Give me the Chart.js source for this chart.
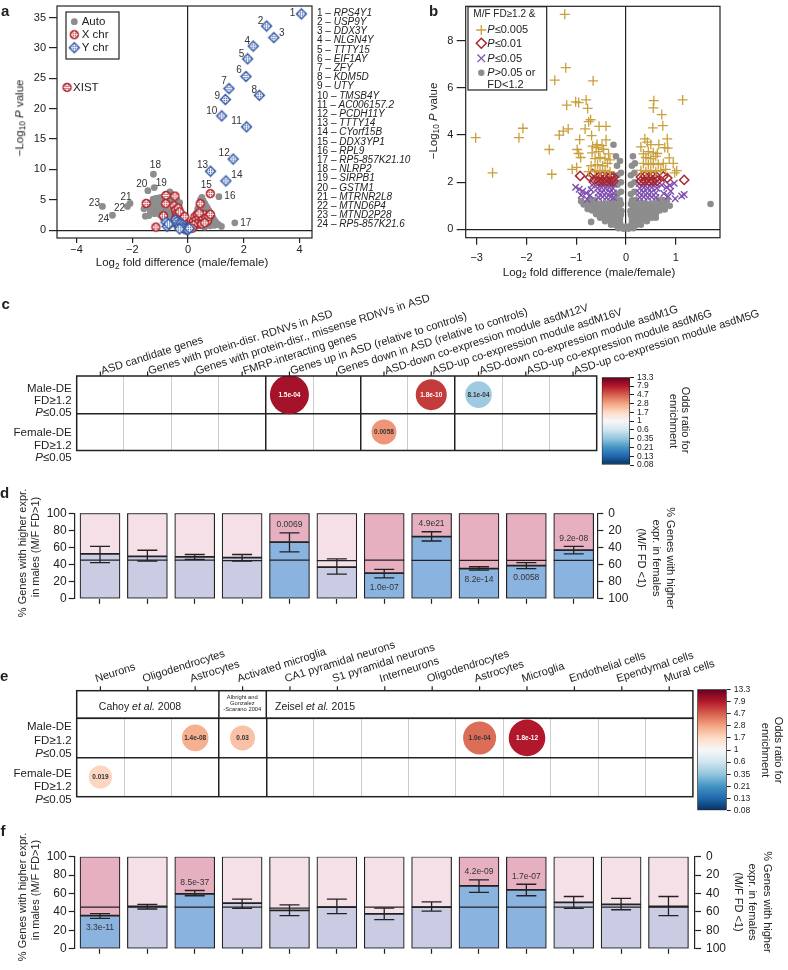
<!DOCTYPE html>
<html><head><meta charset="utf-8"><title>Sex-differential expression</title>
<script src="https://cdn.jsdelivr.net/npm/chart.js@4.4.1/dist/chart.umd.min.js"></script>
<style>
html,body{margin:0;padding:0;background:#fff}
body{width:788px;height:970px;position:relative;overflow:hidden;font-family:"Liberation Sans",Arial,Helvetica,sans-serif;color:#222}
canvas{position:absolute}
.t{position:absolute;white-space:nowrap;line-height:1}
.sub{font-size:72%;position:relative;top:0.3em}
.genes{position:absolute;left:317px;top:7.7px;font-size:10px;line-height:9.2px;white-space:nowrap}
</style></head><body>
<script>
// ===================== DATA =====================
// ---- Panel a: volcano plot (Log2 fold difference vs -Log10 P) ----
const aXTicks = [-4, -2, 0, 2, 4];
const aYTicks = [0, 5, 10, 15, 20, 25, 30, 35];
const aGeneNames = ['RPS4Y1','USP9Y','DDX3Y','NLGN4Y','TTTY15','EIF1AY','ZFY','KDM5D','UTY','TMSB4Y','AC006157.2','PCDH11Y','TTTY14','CYorf15B','DDX3YP1','RPL9','RP5-857K21.10','NLRP2','SIRPB1','GSTM1','MTRNR2L8','MTND6P4','MTND2P28','RP5-857K21.6'];
const aGeneChr = ['Y','Y','Y','Y','Y','Y','Y','Y','Y','Y','Y','Y','Y','Y','X','A','A','A','A','A','A','A','A','A'];
const aGeneFD = [4.07, 2.82, 3.08, 2.34, 2.14, 2.08, 1.47, 2.56, 1.34, 1.21, 2.10, 1.62, 0.81, 1.36, 0.80, 1.11, 1.68, -1.24, -1.21, -1.44, -2.08, -2.17, -3.07, -2.71];
const aGeneP  = [35.6, 33.6, 31.7, 30.3, 28.2, 25.3, 23.3, 22.2, 21.5, 18.8, 17.0, 11.7, 9.7, 8.1, 6.0, 5.5, 1.2, 9.2, 7.0, 6.5, 4.4, 3.9, 3.9, 2.45];
const aXIST = [-4.34, 23.5];
const aAutoCloud = [[-1.58,3.5],[-1.53,2.3],[-1.4,2.4],[-1.36,3.6],[-1.35,3.0],[-1.3,4.5],[-1.25,5.1],[-1.2,3.5],[-1.2,2.7],[-1.15,5.2],[-1.1,4.2],[-1.1,3.0],[-1.05,5.3],[-1.05,3.8],[-1.0,4.6],[-1.0,2.5],[-0.95,5.4],[-0.95,4.9],[-0.9,4.0],[-0.9,3.2],[-0.9,2.0],[-0.85,5.5],[-0.8,4.8],[-0.8,3.6],[-0.8,1.6],[-0.75,5.2],[-0.7,5.8],[-0.7,4.4],[-0.7,3.0],[-0.7,2.1],[-0.65,6.3],[-0.65,1.2],[-0.6,5.9],[-0.6,4.8],[-0.6,2.6],[-0.6,1.8],[-0.55,3.4],[-0.5,5.4],[-0.5,4.2],[-0.5,1.0],[-0.45,3.6],[-0.45,2.8],[-0.4,5.0],[-0.4,2.0],[-0.35,3.2],[-0.35,1.4],[-0.3,4.5],[-0.3,2.4],[-0.3,0.8],[-0.25,0.5],[-0.2,1.2],[-0.15,0.4],
  [0.1,0.2],[0.15,0.5],[0.2,1.0],[0.25,1.8],[0.3,2.8],[0.3,0.6],[0.35,3.5],[0.35,1.2],[0.4,4.2],[0.4,2.2],[0.45,5.0],[0.45,3.0],[0.45,0.7],[0.5,5.4],[0.5,3.8],[0.5,1.4],[0.55,4.8],[0.55,2.6],[0.6,4.4],[0.6,3.2],[0.6,1.6],[0.6,0.5],[0.65,4.0],[0.7,3.6],[0.7,2.4],[0.7,1.0],[0.75,3.2],[0.8,2.8],[0.8,1.8],[0.8,0.7],[0.85,2.4],[0.9,2.0],[0.9,1.2],[0.95,1.6],[0.95,0.8],[1.0,1.3],[1.05,1.0],[1.1,0.9],[1.2,0.6]];
const aXCloud = [[-1.5,4.4],[-0.79,5.7],[-0.47,5.6],[-0.8,4.35],[-0.88,2.35],[-1.15,0.5],[0.44,4.35],
  [-0.5,4.0],[-0.45,3.3],[-0.4,2.8],[-0.35,3.6],[-0.42,2.2],[-0.3,2.0],[-0.35,1.5],[-0.25,2.6],[-0.2,1.8],[-0.15,1.2],[-0.25,1.0],[-0.1,0.6],[-0.3,3.0],[-0.38,1.0],[-0.2,0.4],[-0.45,1.8],[-0.12,2.2],
  [0.1,0.5],[0.15,1.0],[0.2,1.5],[0.25,2.2],[0.3,1.8],[0.35,2.5],[0.4,2.0],[0.45,1.4],[0.5,2.4],[0.55,1.9],[0.6,2.5],[0.65,2.0],[0.7,1.5],[0.75,2.2],[0.3,1.0],[0.2,0.8],[0.5,1.0],[0.4,2.8],[0.15,0.3],[0.6,1.2],[0.8,2.6]];
const aYCloud = [[-0.79,1.3],[-0.75,0.6],[-0.7,1.0],[-0.45,1.7],[-0.4,1.4],[-0.35,1.0],[-0.3,0.7],[-0.25,1.1],[-0.2,0.9],[-0.2,0.5],[-0.15,0.3],[-0.1,0.2],[-0.05,0.1],[0,0.05],[-0.3,0.2],[0.05,0.3]];

// ---- Panel b: volcano plot by significance class ----
const bXTicks = [-3, -2, -1, 0, 1];
const bYTicks = [0, 2, 4, 6, 8];
const bGold = [[-1.23,9.12],[-1.21,6.86],[-1.43,6.33],[-0.66,6.30],[-0.80,5.49],[-1.01,5.41],[-0.95,5.38],[-1.19,5.27],[-0.77,5.13],[-0.71,4.65],[-0.75,4.57],[-0.54,4.37],[-0.40,4.37],[-1.16,4.26],[-1.26,4.17],[-1.34,4.0],[-0.82,4.26],[-2.07,4.29],[-2.15,3.89],[-3.02,3.89],[-2.68,2.40],[-1.54,3.39],[-1.49,2.34],[-0.93,3.81],[-0.98,3.39],[-0.95,3.22],[-0.91,3.05],[-0.99,2.63],[-1.08,2.55],[-0.69,3.98],[-0.67,3.53],[-0.60,3.47],[-0.40,3.8],
  [-0.62,2.5],[-0.52,2.45],[-0.42,2.5],[-0.32,2.45],[-0.57,2.75],[-0.47,2.7],[-0.37,2.8],[-0.62,3.0],[-0.52,3.05],[-0.42,3.0],[-0.32,2.95],[-0.55,3.3],[-0.45,3.4],[-0.35,3.2],[-0.58,3.6],[-0.48,3.55],[-0.7,2.7],[-0.75,2.45],[-0.68,3.25],
  [0.56,5.46],[0.55,5.15],[0.72,4.87],[0.54,4.31],[0.74,4.40],[1.14,5.49],[0.38,3.84],[0.43,3.70],[0.83,3.84],[0.78,3.47],[0.84,3.45],[0.63,3.22],[0.87,3.03],[0.95,2.80],[1.02,2.49],[0.98,2.4],[0.66,3.6],
  [0.3,2.5],[0.4,2.45],[0.5,2.5],[0.6,2.45],[0.7,2.5],[0.8,2.55],[0.35,2.8],[0.45,2.75],[0.55,2.8],[0.65,2.75],[0.75,2.8],[0.4,3.05],[0.5,3.0],[0.6,3.1],[0.45,3.3],[0.55,3.25],[0.35,3.2],[0.3,3.5],[0.5,3.6]];
const bRed = [[-0.92,2.27],[-0.72,2.21],[-0.67,2.35],[-0.63,2.1],[0.83,2.18],[1.17,2.1],[0.75,2.25],
  [-0.55,2.05],[-0.47,2.08],[-0.39,2.05],[-0.31,2.08],[-0.25,2.05],[-0.55,2.22],[-0.47,2.25],[-0.39,2.22],[-0.31,2.25],[-0.25,2.22],
  [0.3,2.05],[0.38,2.08],[0.46,2.05],[0.54,2.08],[0.62,2.05],[0.3,2.22],[0.38,2.25],[0.46,2.22],[0.54,2.25],[0.62,2.22]];
const bPurple = [[-1.01,1.79],[-0.94,1.70],[-0.87,1.62],[-0.80,1.55],[-0.78,1.28],[-0.72,1.45],[-0.68,1.88],[-0.70,1.68],[-0.9,1.45],
  [0.82,1.79],[0.97,1.96],[0.90,1.62],[0.99,1.30],[1.17,1.48],[1.12,1.42],[0.76,1.52],[0.72,1.88],[0.88,1.86],[0.85,1.4],
  [-0.55,1.35],[-0.47,1.38],[-0.39,1.35],[-0.31,1.38],[-0.25,1.35],[-0.56,1.55],[-0.48,1.58],[-0.4,1.55],[-0.32,1.58],[-0.25,1.55],[-0.57,1.75],[-0.49,1.78],[-0.41,1.75],[-0.33,1.78],[-0.26,1.75],[-0.55,1.95],[-0.47,1.92],[-0.39,1.95],[-0.31,1.92],[-0.25,1.95],
  [0.28,1.35],[0.36,1.38],[0.44,1.35],[0.52,1.38],[0.6,1.35],[0.27,1.55],[0.35,1.58],[0.43,1.55],[0.51,1.58],[0.6,1.55],[0.28,1.75],[0.36,1.78],[0.44,1.75],[0.52,1.78],[0.62,1.75],[0.27,1.95],[0.35,1.92],[0.43,1.95],[0.51,1.92],[0.6,1.95]];
const bGray = [[-0.15,0.05],[-0.05,0.03],[0.05,0.03],[0.15,0.05],
  [-0.3,0.2],[-0.2,0.18],[-0.1,0.15],[0,0.12],[0.1,0.15],[0.2,0.18],[0.3,0.2],
  [-0.42,0.35],[-0.32,0.38],[-0.22,0.33],[-0.12,0.3],[0.12,0.3],[0.22,0.33],[0.32,0.38],[0.42,0.35],
  [-0.52,0.5],[-0.42,0.52],[-0.32,0.5],[-0.22,0.48],[-0.12,0.45],[0.12,0.45],[0.22,0.48],[0.32,0.5],[0.42,0.52],[0.52,0.5],
  [-0.6,0.65],[-0.5,0.67],[-0.4,0.65],[-0.3,0.63],[-0.2,0.65],[-0.1,0.62],[0.1,0.62],[0.2,0.65],[0.3,0.63],[0.4,0.65],[0.5,0.67],[0.6,0.65],
  [-0.68,0.8],[-0.58,0.82],[-0.48,0.8],[-0.38,0.78],[-0.28,0.8],[-0.18,0.82],[-0.09,0.78],[0.09,0.78],[0.18,0.82],[0.28,0.8],[0.38,0.78],[0.48,0.8],[0.58,0.82],[0.68,0.8],
  [-0.74,0.95],[-0.64,0.97],[-0.54,0.95],[-0.44,0.93],[-0.34,0.95],[-0.24,0.97],[-0.14,0.94],[0.14,0.94],[0.24,0.97],[0.34,0.95],[0.44,0.93],[0.54,0.95],[0.64,0.97],[0.74,0.95],
  [-0.8,1.1],[-0.7,1.12],[-0.6,1.1],[-0.5,1.08],[-0.4,1.1],[-0.3,1.12],[-0.2,1.1],[-0.1,1.08],[0.1,1.08],[0.2,1.1],[0.3,1.12],[0.4,1.1],[0.5,1.08],[0.6,1.1],[0.7,1.12],[0.8,1.1],
  [-0.72,1.25],[-0.62,1.24],[-0.2,1.25],[-0.12,1.24],[0.12,1.24],[0.2,1.25],[0.66,1.24],[0.74,1.25],[0.82,1.23],
  [-0.17,1.5],[-0.1,1.6],[0.1,1.5],[0.17,1.6],[-0.17,1.9],[-0.1,2.0],[0.1,1.9],[0.17,2.0],[-0.17,2.3],[-0.1,2.4],[0.1,2.3],[0.17,2.4],[-0.18,2.7],[-0.12,2.9],[0.12,2.7],[0.18,2.8],[-0.2,3.1],[0.14,3.1],[-0.25,3.59],
  [-0.70,0.32],[-0.85,1.06],[-0.77,0.87],[0.6,0.5],[0.78,0.85],[1.7,1.08],[0.88,1.0],[-0.9,1.2]];

// ---- Panel c: enrichment in ASD gene sets ----
const cCategories = ['ASD candidate genes','Genes with protein-disr. RDNVs in ASD','Genes with protein-disr., missense RDNVs in ASD','FMRP-interacting genes','Genes up in ASD (relative to controls)','Genes down in ASD (relative to controls)','ASD-down co-expression module asdM12V','ASD-up co-expression module asdM16V','ASD-down co-expression module asdM1G','ASD-up co-expression module asdM6G','ASD-up co-expression module asdM5G'];
const cGroupBreaks = [4.5, 6.5, 8.5];
const cBubbleCol  = [5, 8, 9, 7];
const cBubbleRow  = [1, 1, 1, 0];        // 1 = Male-DE, 0 = Female-DE
const cBubbleOR   = [8.8, 6.2, 0.41, 3.2];
const cBubbleSize = [19.5, 15.5, 13.3, 12.5];
const cBubbleP    = ['1.5e-04', '1.8e-10', '8.1e-04', '0.0058'];

// ---- Panel d: % genes higher in males, ASD gene sets ----
const dMale  = [52.5, 49.6, 48.9, 48.2, 66.2, 37.0, 29.9, 72.7, 35.3, 38.8, 56.8];
const dBase  = [45.3, 45.3, 45.3, 44.6, 45.3, 44.6, 45.3, 45.0, 45.0, 45.0, 45.0];
const dErrLo = [42.4, 44.2, 46.0, 44.2, 55.0, 28.8, 24.5, 67.6, 33.5, 35.3, 52.5];
const dErrHi = [61.2, 56.8, 51.8, 51.8, 77.0, 46.8, 34.5, 78.4, 37.5, 42.4, 61.2];
const dPval  = ['', '', '', '', '0.0069', '', '1.0e-07', '4.9e21', '8.2e-14', '0.0058', '9.2e-08'];

// ---- Panel e: enrichment in cell-type marker sets ----
const eCategories = ['Neurons','Oligodendrocytes','Astrocytes','Activated microglia','CA1 pyramidal neurons','S1 pyramidal neurons','Interneurons','Oligodendrocytes','Astrocytes','Microglia','Endothelial cells','Ependymal cells','Mural cells'];
const eGroupBreaks = [3.5, 4.5];
const eBubbleCol  = [3, 4, 9, 10, 1];
const eBubbleRow  = [1, 1, 1, 1, 0];
const eBubbleOR   = [2.6, 2.2, 4.3, 8.0, 1.8];
const eBubbleSize = [13.3, 12.5, 16.5, 18.3, 11.7];
const eBubbleP    = ['1.4e-08', '0.03', '1.0e-04', '1.8e-12', '0.019'];

// ---- Panel f: % genes higher in males, cell-type sets ----
const fMale  = [36.0, 46.0, 59.7, 49.6, 41.7, 45.3, 37.8, 45.3, 68.3, 64.0, 50.4, 48.2, 46.0];
const fBase  = [45.3, 45.3, 45.3, 45.3, 44.2, 45.3, 45.3, 45.3, 45.3, 45.3, 45.3, 45.3, 45.3];
const fErrLo = [33.1, 43.2, 57.6, 43.9, 36.0, 38.1, 31.7, 41.0, 61.2, 57.6, 43.9, 42.4, 36.0];
const fErrHi = [38.1, 48.2, 63.3, 54.0, 47.8, 54.0, 44.2, 51.0, 74.8, 70.1, 56.8, 54.7, 56.8];
const fPval  = ['3.3e-11', '', '8.5e-37', '', '', '', '', '', '4.2e-09', '1.7e-07', '', '', ''];

// ---- shared ----
const pctTicks = [0, 20, 40, 60, 80, 100];
const oddsTicks = ['0.08','0.13','0.21','0.35','0.6','1','1.7','2.8','4.7','7.9','13.3'];

// ===================== STYLE / HELPERS =====================
const FONT = '"Liberation Sans", Arial, Helvetica, sans-serif';
const INK = '#222';
const RDBU = ['#053061','#2166ac','#4393c3','#92c5de','#d1e5f0','#f7f7f7','#fddbc7','#f4a582','#d6604d','#b2182b','#67001f'];
const C_BLUE = '#8ab3e0', C_PINK = '#e7b0c1', C_LAV = '#c9cce2', C_LPINK = '#f5e0e7';
Chart.defaults.font.family = FONT;
Chart.defaults.color = INK;
Chart.defaults.animation = false;
Chart.defaults.events = [];
Chart.defaults.plugins.legend.display = false;
Chart.defaults.plugins.tooltip.enabled = false;

function mkCanvas(l, t, w, h) {
  const c = document.createElement('canvas');
  c.width = w; c.height = h;
  Object.assign(c.style, {left: l + 'px', top: t + 'px', width: w + 'px', height: h + 'px'});
  document.body.appendChild(c);
  return c;
}
const fixW = w => s => { s.width = w; s.paddingTop = 0; s.paddingBottom = 0; };
const fixH = h => s => { s.height = h; s.paddingLeft = 0; s.paddingRight = 0; };
const setTicks = arr => s => { s.ticks = arr.map(v => ({value: v})); };
const fmtMinus = v => (v < 0 ? '\u2212' + Math.abs(v) : String(v));
const pts = arr => arr.map(p => ({x: p[0], y: p[1]}));
const zeroOnly = c => (c.tick && c.tick.value === 0 ? INK : 'rgba(0,0,0,0)');
function hex2rgb(h) { return [1, 3, 5].map(i => parseInt(h.substr(i, 2), 16)); }
function orT(or) { return Math.min(1, Math.max(0, (Math.log(or) - Math.log(0.08)) / (Math.log(13.3) - Math.log(0.08)))); }
function orColor(or) {
  const s = orT(or) * 10, i = Math.min(9, Math.floor(s)), f = s - i;
  const a = hex2rgb(RDBU[i]), b = hex2rgb(RDBU[i + 1]);
  return 'rgb(' + a.map((v, k) => Math.round(v + (b[k] - v) * f)).join(',') + ')';
}
function T(html, x, y, o = {}) {
  const d = document.createElement('div');
  d.className = 't';
  d.innerHTML = html;
  const tx = o.a === 'l' ? '0' : o.a === 'r' ? '-100%' : '-50%';
  d.style.left = x + 'px'; d.style.top = y + 'px';
  d.style.fontSize = (o.size || 11) + 'px';
  d.style.transform = 'translate(' + tx + ',-50%)' + (o.rot ? ' rotate(' + o.rot + 'deg)' : '');
  if (o.bold) d.style.fontWeight = 'bold';
  document.body.appendChild(d);
}
const boxPlugin = {
  id: 'box',
  afterDatasetsDraw(ch, args, opts) {
    const {ctx, chartArea: a} = ch;
    ctx.save(); ctx.strokeStyle = INK; ctx.lineWidth = opts.lw || 1.2;
    ctx.strokeRect(a.left, a.top, a.right - a.left, a.bottom - a.top);
    ctx.restore();
  }
};

// marker images for panel a
function markerX() {
  const c = document.createElement('canvas'); c.width = c.height = 11;
  const g = c.getContext('2d');
  g.fillStyle = '#b0252c'; g.beginPath(); g.arc(5.5, 5.5, 4.7, 0, 2 * Math.PI); g.fill();
  g.strokeStyle = '#fff'; g.lineWidth = 0.9;
  g.beginPath(); g.arc(5.5, 5.5, 2.5, 0, 2 * Math.PI); g.stroke();
  g.beginPath(); g.moveTo(5.5, 2); g.lineTo(5.5, 9); g.moveTo(2, 5.5); g.lineTo(9, 5.5); g.stroke();
  return c;
}
function markerY() {
  const c = document.createElement('canvas'); c.width = c.height = 13;
  const g = c.getContext('2d');
  g.fillStyle = '#3b5ea9'; g.beginPath(); g.moveTo(6.5, 0.5); g.lineTo(12.5, 6.5); g.lineTo(6.5, 12.5); g.lineTo(0.5, 6.5); g.closePath(); g.fill();
  g.strokeStyle = '#fff'; g.lineWidth = 0.9;
  g.beginPath(); g.arc(6.5, 6.5, 2.6, 0, 2 * Math.PI); g.stroke();
  g.beginPath(); g.moveTo(6.5, 3); g.lineTo(6.5, 10); g.moveTo(3, 6.5); g.lineTo(10, 6.5); g.stroke();
  return c;
}
const imgX = markerX(), imgY = markerY();

// ===================== PANEL a =====================
const aLabelOff = [[-9,-1],[-6,-5],[8,-4],[-6,-5],[-6,-5],[-7,-6],[-5,-7],[-5,-5],[-8,-3],[-10,-5],[-10,-6],[-9,-6],[-8,-6],[11,-6],[-4,-8],[11,0],[11,0],[2,-9],[7,-4],[-6,-6],[-4,-6],[-8,2],[-8,-3],[-9,4]];
const genePts = chr => aGeneFD.map((x, i) => ({x, y: aGeneP[i], c: aGeneChr[i]})).filter(g => g.c === chr).map(g => ({x: g.x, y: g.y}));
const aAuto = pts(aAutoCloud).concat(genePts('A'));
const aX = pts(aXCloud).concat(genePts('X'), [{x: aXIST[0], y: aXIST[1]}]);
const aY = pts(aYCloud).concat(genePts('Y'));

const aLabels = {
  id: 'aLabels',
  afterDatasetsDraw(ch) {
    const {ctx} = ch, xs = ch.scales.x, ys = ch.scales.y;
    ctx.save(); ctx.fillStyle = '#333'; ctx.font = '10px ' + FONT; ctx.textAlign = 'center'; ctx.textBaseline = 'middle';
    aGeneFD.forEach((fd, i) => {
      ctx.fillText(String(i + 1), xs.getPixelForValue(fd) + aLabelOff[i][0], ys.getPixelForValue(aGeneP[i]) + aLabelOff[i][1]);
    });
    ctx.font = '11.5px ' + FONT; ctx.textAlign = 'left'; ctx.fillStyle = INK;
    ctx.fillText('XIST', xs.getPixelForValue(aXIST[0]) + 6, ys.getPixelForValue(aXIST[1]) + 0.5);
    ctx.restore();
  }
};
const legendA = {
  id: 'legendA',
  afterDraw(ch) {
    const c = ch.ctx; c.save();
    c.fillStyle = '#fff'; c.fillRect(66, 12, 53, 47);
    c.strokeStyle = INK; c.lineWidth = 1.2; c.strokeRect(66, 12, 53, 47);
    c.fillStyle = '#8d8d8d'; c.beginPath(); c.arc(74.3, 21.7, 3.4, 0, 2 * Math.PI); c.fill();
    c.drawImage(imgX, 74.3 - imgX.width / 2, 34.7 - imgX.height / 2);
    c.drawImage(imgY, 74.3 - imgY.width / 2, 47.7 - imgY.height / 2);
    c.fillStyle = INK; c.font = '11.5px ' + FONT; c.textBaseline = 'middle'; c.textAlign = 'left';
    c.fillText('Auto', 81.7, 22); c.fillText('X chr', 81.7, 35); c.fillText('Y chr', 81.7, 48);
    c.restore();
  }
};
new Chart(mkCanvas(0, 0, 400, 290), {
  type: 'scatter',
  data: {datasets: [
    {label: 'Y chr', data: aY, pointStyle: imgY, pointRadius: 5, order: 1},
    {label: 'X chr', data: aX, pointStyle: imgX, pointRadius: 4, order: 2},
    {label: 'Auto', data: aAuto, pointStyle: 'circle', pointRadius: 3.4, backgroundColor: '#8d8d8d', borderWidth: 0, order: 3}
  ]},
  options: {
    responsive: false, devicePixelRatio: 1,
    layout: {padding: {left: 0, top: 4, right: 88, bottom: 0}},
    scales: {
      x: {type: 'linear', min: -4.7, max: 4.45, afterBuildTicks: setTicks(aXTicks), afterFit: fixH(52),
          grid: {color: zeroOnly, lineWidth: 1.2, tickColor: INK, tickLength: 5, tickWidth: 1.2},
          border: {display: false}, ticks: {font: {size: 11}, padding: 0, callback: fmtMinus, maxRotation: 0, autoSkip: false}},
      y: {type: 'linear', min: -1.3, max: 36.9, afterBuildTicks: setTicks(aYTicks), afterFit: fixW(57),
          grid: {color: zeroOnly, lineWidth: 1.2, tickColor: INK, tickLength: 8, tickWidth: 1.2},
          border: {display: false}, ticks: {font: {size: 11}, padding: 3, callback: fmtMinus, autoSkip: false}}
    },
    plugins: {box: {lw: 1.2}}
  },
  plugins: [boxPlugin, aLabels, legendA]
});

// ===================== PANEL b =====================
const GOLD = '#c9a03c', DRED = '#a8262d', PURP = '#8050b0', GRAY = '#8d8d8d';
function drawMark(c, kind, x, y) {
  c.save(); c.lineWidth = 1.3;
  if (kind === 'plus') { c.strokeStyle = GOLD; c.beginPath(); c.moveTo(x - 5, y); c.lineTo(x + 5, y); c.moveTo(x, y - 5); c.lineTo(x, y + 5); c.stroke(); }
  if (kind === 'diam') { c.strokeStyle = DRED; c.lineWidth = 1.5; c.beginPath(); c.moveTo(x, y - 5); c.lineTo(x + 5, y); c.lineTo(x, y + 5); c.lineTo(x - 5, y); c.closePath(); c.stroke(); }
  if (kind === 'x') { c.strokeStyle = PURP; c.beginPath(); c.moveTo(x - 3.8, y - 3.8); c.lineTo(x + 3.8, y + 3.8); c.moveTo(x - 3.8, y + 3.8); c.lineTo(x + 3.8, y - 3.8); c.stroke(); }
  if (kind === 'dot') { c.fillStyle = GRAY; c.beginPath(); c.arc(x, y, 3.2, 0, 2 * Math.PI); c.fill(); }
  c.restore();
}
function richText(c, segs, x, y, size) {
  let cx = x;
  segs.forEach(([txt, it]) => { c.font = (it ? 'italic ' : '') + size + 'px ' + FONT; c.fillText(txt, cx, y); cx += c.measureText(txt).width; });
}
const legendB = {
  id: 'legendB',
  afterDraw(ch) {
    const c = ch.ctx; c.save();
    c.fillStyle = '#fff'; c.fillRect(68, 6.7, 78.7, 83.3);
    c.strokeStyle = INK; c.lineWidth = 1.2; c.strokeRect(68, 6.7, 78.7, 83.3);
    c.fillStyle = INK; c.textBaseline = 'middle'; c.textAlign = 'left';
    c.font = '10px ' + FONT; c.fillText('M/F FD\u22651.2 &', 73.3, 14.6);
    drawMark(c, 'plus', 81.3, 30); drawMark(c, 'diam', 81.3, 43.3); drawMark(c, 'x', 81.3, 58.3); drawMark(c, 'dot', 81.3, 72.7);
    richText(c, [['P', true], ['\u22640.005', false]], 87.3, 30.3, 11);
    richText(c, [['P', true], ['\u22640.01', false]], 87.3, 43.6, 11);
    richText(c, [['P', true], ['\u22640.05', false]], 87.3, 58.6, 11);
    richText(c, [['P', true], ['>0.05 or', false]], 87.3, 73, 11);
    richText(c, [['FD<1.2', false]], 87.3, 85.3, 11);
    c.restore();
  }
};
new Chart(mkCanvas(400, 0, 388, 290), {
  type: 'scatter',
  data: {datasets: [
    {label: 'P<=0.005', data: pts(bGold), pointStyle: 'cross', pointRadius: 5, borderColor: GOLD, borderWidth: 1.3, order: 1},
    {label: 'P<=0.01', data: pts(bRed), pointStyle: 'rectRot', pointRadius: 4.6, borderColor: DRED, backgroundColor: 'rgba(0,0,0,0)', borderWidth: 1.5, order: 2},
    {label: 'P<=0.05', data: pts(bPurple), pointStyle: 'crossRot', pointRadius: 4.6, borderColor: PURP, borderWidth: 1.4, order: 3},
    {label: 'P>0.05 or FD<1.2', data: pts(bGray), pointStyle: 'circle', pointRadius: 3.3, backgroundColor: GRAY, borderWidth: 0, order: 4}
  ]},
  options: {
    responsive: false, devicePixelRatio: 1,
    layout: {padding: {left: 0, top: 4, right: 68, bottom: 0}},
    scales: {
      x: {type: 'linear', min: -3.22, max: 1.89, afterBuildTicks: setTicks(bXTicks), afterFit: fixH(52.3),
          grid: {color: zeroOnly, lineWidth: 1.2, tickColor: INK, tickLength: 7, tickWidth: 1.2},
          border: {display: false}, ticks: {font: {size: 11}, padding: 7, callback: fmtMinus, maxRotation: 0, autoSkip: false}},
      y: {type: 'linear', min: -0.35, max: 9.46, afterBuildTicks: setTicks(bYTicks), afterFit: fixW(65.7),
          grid: {color: zeroOnly, lineWidth: 1.2, tickColor: INK, tickLength: 9, tickWidth: 1.2},
          border: {display: false}, ticks: {font: {size: 11}, padding: 3.4, callback: fmtMinus, autoSkip: false}}
    },
    plugins: {box: {lw: 1.2}}
  },
  plugins: [boxPlugin, legendB]
});

// ===================== PANELS c & e (enrichment grids) =====================
function heatPanel(o) {
  const data = o.col.map((c, i) => ({x: c, y: o.row[i] + 0.5, r: o.size[i]}));
  const colors = o.or.map(orColor);
  const bounds = [];
  for (let i = 1; i < o.cats.length; i++) bounds.push(i + 0.5);
  const isBreak = c => c.tick && o.breaks.includes(c.tick.value);
  const head = {
    id: 'colHead',
    afterDraw(ch) {
      const {ctx, chartArea: a} = ch, xs = ch.scales.x;
      const hTop = a.top - o.hdrH;
      ctx.save(); ctx.strokeStyle = INK;
      if (o.hdrH) {
        ctx.lineWidth = 1.5; ctx.strokeRect(a.left, hTop, a.right - a.left, o.hdrH);
        o.breaks.forEach(b => { const x = xs.getPixelForValue(b); ctx.beginPath(); ctx.moveTo(x, hTop); ctx.lineTo(x, a.top); ctx.stroke(); });
      }
      ctx.lineWidth = 1.2; ctx.fillStyle = INK; ctx.font = '11px ' + FONT; ctx.textAlign = 'left'; ctx.textBaseline = 'alphabetic';
      o.cats.forEach((lab, i) => {
        const x = xs.getPixelForValue(i + 1);
        ctx.beginPath(); ctx.moveTo(x, hTop - 4.5); ctx.lineTo(x, hTop); ctx.stroke();
        ctx.save(); ctx.translate(x + o.lblDx, hTop + o.lblDy); ctx.rotate(-o.angle * Math.PI / 180); ctx.fillText(lab, 0, 0); ctx.restore();
      });
      ctx.restore();
    }
  };
  const btext = {
    id: 'bubbleText',
    afterDatasetsDraw(ch) {
      const {ctx} = ch, meta = ch.getDatasetMeta(0);
      ctx.save(); ctx.font = 'bold 6.5px ' + FONT; ctx.textAlign = 'center'; ctx.textBaseline = 'middle';
      meta.data.forEach((el, i) => { ctx.fillStyle = orT(o.or[i]) > 0.82 ? '#fff' : '#333'; ctx.fillText(o.p[i], el.x, el.y + 0.5); });
      ctx.restore();
    }
  };
  new Chart(mkCanvas(...o.canvas), {
    type: 'bubble',
    data: {datasets: [{label: 'enrichment', data, backgroundColor: colors, borderWidth: 0}]},
    options: {
      responsive: false, devicePixelRatio: 1,
      layout: {padding: o.padding},
      scales: {
        x: {type: 'linear', min: 0.5, max: o.cats.length + 0.5, afterBuildTicks: setTicks(bounds), afterFit: fixH(0),
            ticks: {display: false}, border: {display: false},
            grid: {drawTicks: false, color: c => (isBreak(c) ? INK : '#cdcdcd'), lineWidth: c => (isBreak(c) ? 1.5 : 1)}},
        y: {type: 'linear', min: 0, max: 2, afterBuildTicks: setTicks([1]), afterFit: fixW(0),
            ticks: {display: false}, border: {display: false}, grid: {drawTicks: false, color: INK, lineWidth: 1.5}}
      },
      plugins: {box: {lw: 1.5}}
    },
    plugins: [boxPlugin, head, btext]
  });
}
function colorbar(l, t, w, h, pad) {
  new Chart(mkCanvas(l, t, w, h), {
    type: 'bar',
    data: {labels: ['odds'], datasets: [{
      label: 'Odds ratio', data: [[0, oddsTicks.length - 1]],
      backgroundColor: ctx => {
        const a = ctx.chart.chartArea; if (!a) return '#fff';
        const g = ctx.chart.ctx.createLinearGradient(0, a.bottom, 0, a.top);
        RDBU.forEach((col, i) => g.addColorStop(i / (RDBU.length - 1), col));
        return g;
      },
      borderColor: INK, borderWidth: 1, borderSkipped: false, barPercentage: 1, categoryPercentage: 1
    }]},
    options: {
      responsive: false, devicePixelRatio: 1,
      layout: {padding: pad},
      scales: {
        x: {display: false},
        y: {position: 'right', min: 0, max: oddsTicks.length - 1, afterBuildTicks: setTicks(oddsTicks.map((_, i) => i)), afterFit: fixW(50),
            ticks: {callback: v => oddsTicks[v], font: {size: 8.5}, padding: 3, autoSkip: false},
            grid: {drawOnChartArea: false, tickLength: 4, tickColor: INK, tickWidth: 1}, border: {display: false}}
      }
    }
  });
}
heatPanel({canvas: [0, 278, 788, 192], padding: {left: 76.7, top: 98, right: 191.3, bottom: 5},
  cats: cCategories, breaks: cGroupBreaks, col: cBubbleCol, row: cBubbleRow, or: cBubbleOR, size: cBubbleSize, p: cBubbleP,
  hdrH: 0, lblDx: 2, lblDy: -1.5, angle: 17.5});
colorbar(590, 365, 110, 110, {left: 11.7, top: 12.3, right: 20, bottom: 10});
heatPanel({canvas: [0, 640, 788, 175], padding: {left: 76.7, top: 78.3, right: 95.1, bottom: 6},
  cats: eCategories, breaks: eGroupBreaks, col: eBubbleCol, row: eBubbleRow, or: eBubbleOR, size: eBubbleSize, p: eBubbleP,
  hdrH: 27.6, lblDx: -4, lblDy: -8.5, angle: 17.5});
colorbar(686, 678, 100, 145, {left: 11.3, top: 11.3, right: 9.3, bottom: 12.3});

// ===================== PANELS d & f (bars) =====================
function barPanel(o) {
  const idx = o.male.map((_, i) => i + 1);
  const sig = o.p.map(s => s !== '');
  const errs = {
    id: 'errs',
    afterDatasetsDraw(ch) {
      const {ctx} = ch, xs = ch.scales.x, ys = ch.scales.y;
      ctx.save(); ctx.strokeStyle = INK; ctx.lineWidth = 1.3;
      idx.forEach((x, i) => {
        const px = xs.getPixelForValue(x), y1 = ys.getPixelForValue(o.lo[i]), y2 = ys.getPixelForValue(o.hi[i]);
        ctx.beginPath(); ctx.moveTo(px, y1); ctx.lineTo(px, y2);
        ctx.moveTo(px - 10, y1); ctx.lineTo(px + 10, y1); ctx.moveTo(px - 10, y2); ctx.lineTo(px + 10, y2); ctx.stroke();
      });
      ctx.fillStyle = '#333'; ctx.font = '8.5px ' + FONT; ctx.textAlign = 'center'; ctx.textBaseline = 'middle';
      idx.forEach((x, i) => {
        if (!o.p[i]) return;
        const px = xs.getPixelForValue(x);
        const py = o.male[i] >= o.base[i] ? ys.getPixelForValue(o.hi[i]) - 8 : ys.getPixelForValue(o.lo[i]) + 9.5;
        ctx.fillText(o.p[i], px, py);
      });
      ctx.restore();
    }
  };
  const yCommon = {min: 0, max: 100, afterBuildTicks: setTicks(pctTicks),
    grid: {drawOnChartArea: false, tickLength: 6, tickColor: INK, tickWidth: 1.2},
    border: {display: true, color: INK, width: 1.2}};
  new Chart(mkCanvas(...o.canvas), {
    type: 'bar',
    data: {datasets: [
      {type: 'scatter', label: 'expected', data: idx.map((x, i) => ({x, y: o.base[i]})), pointStyle: 'line', pointRadius: 20, borderColor: INK, borderWidth: 1.2, order: 0},
      {label: 'higher in males', data: idx.map((x, i) => ({x, y: [0, o.male[i]]})), backgroundColor: sig.map(s => (s ? C_BLUE : C_LAV)),
       borderColor: INK, borderWidth: 1.2, borderSkipped: false, grouped: false, barThickness: 40, order: 1},
      {label: 'higher in females', data: idx.map((x, i) => ({x, y: [o.male[i], 100]})), backgroundColor: sig.map(s => (s ? C_PINK : C_LPINK)),
       borderColor: INK, borderWidth: 1.2, borderSkipped: false, grouped: false, barThickness: 40, order: 1}
    ]},
    options: {
      responsive: false, devicePixelRatio: 1,
      layout: {padding: o.padding},
      scales: {
        x: {type: 'linear', offset: false, min: o.xmin, max: o.xmax, afterBuildTicks: setTicks(idx), afterFit: fixH(6),
            ticks: {display: false}, border: {display: false},
            grid: {offset: false, drawOnChartArea: false, tickLength: 5, tickColor: INK, tickWidth: 1.2}},
        y: Object.assign({position: 'left', afterFit: fixW(74.7), ticks: {font: {size: 12}, padding: 2, autoSkip: false}}, yCommon),
        y2: Object.assign({type: 'linear', position: 'right', reverse: true, afterFit: fixW(60), ticks: {font: {size: 12}, padding: 5, autoSkip: false}}, yCommon)
      }
    },
    plugins: [errs]
  });
}
barPanel({canvas: [0, 470, 788, 150], padding: {left: 0, top: 43.3, right: 130.7, bottom: 8},
  male: dMale, base: dBase, lo: dErrLo, hi: dErrHi, p: dPval, xmin: 0.466, xmax: 11.498});
barPanel({canvas: [0, 815, 788, 155], padding: {left: 0, top: 41.7, right: 33, bottom: 14.7},
  male: fMale, base: fBase, lo: fErrLo, hi: fErrHi, p: fPval, xmin: 0.466, xmax: 13.56});

// ===================== TEXT =====================
[['a', 1, 10], ['b', 429, 10], ['c', 1.5, 303.3], ['d', 0, 491.7], ['e', 0, 675], ['f', 0.5, 830]]
  .forEach(([s, x, y]) => T(s, x, y, {a: 'l', size: 15, bold: true}));
const yTitle = '\u2212Log<span class="sub">10</span> <i>P</i> value';
const xTitle = 'Log<span class="sub">2</span> fold difference (male/female)';
T(yTitle, 20, 118, {rot: -90, size: 11.5});
T(xTitle, 182, 263.3, {size: 11.5});
T(yTitle, 434, 121, {rot: -90, size: 11.5});
T(xTitle, 589, 272.7, {size: 11.5});
const gl = document.createElement('div');
gl.className = 'genes';
gl.innerHTML = aGeneNames.map((g, i) => (i + 1) + ' \u2013 <i>' + g + '</i>').join('<br>');
document.body.appendChild(gl);

function rowLabels(lines, x, ys) { lines.forEach((s, i) => T(s, x, ys[i], {a: 'r', size: 11.5})); }
const maleLines = ['Male-DE', 'FD\u22651.2', '<i>P</i>\u22640.05'];
const femaleLines = ['Female-DE', 'FD\u22651.2', '<i>P</i>\u22640.05'];
rowLabels(maleLines, 71.7, [388.7, 401, 413.3]);
rowLabels(femaleLines, 71.7, [433.3, 445.8, 458.3]);
rowLabels(maleLines, 71.7, [727.3, 740.7, 754]);
rowLabels(femaleLines, 71.7, [774, 787, 800]);

T('Odds ratio for', 685, 420, {rot: 90, size: 11});
T('enrichment', 672.7, 421, {rot: 90, size: 11});
T('Odds ratio for', 778.3, 750, {rot: 90, size: 11});
T('enrichment', 765, 750, {rot: 90, size: 11});

T('Cahoy <i>et al.</i> 2008', 140, 705.7, {size: 10.5});
T('Albright and', 242.3, 698.3, {size: 5.8});
T('Gonzalez', 242.3, 704, {size: 5.8});
T('-Scarano 2004', 242.3, 709.7, {size: 5.8});
T('Zeisel <i>et al.</i> 2015', 275, 705.7, {a: 'l', size: 10.5});

T('% Genes with higher expr.', 21.7, 553.3, {rot: -90, size: 11});
T('in males (M/F FD&gt;1)', 35, 546.7, {rot: -90, size: 11});
T('% Genes with higher', 670, 558, {rot: 90, size: 11});
T('expr. in females', 655.7, 558, {rot: 90, size: 11});
T('(M/F FD &lt;1)', 640.7, 558, {rot: 90, size: 11});

T('% Genes with higher expr.', 21.7, 896.6, {rot: -90, size: 11});
T('in males (M/F FD&gt;1)', 35, 890, {rot: -90, size: 11});
T('% Genes with higher', 766.7, 901.7, {rot: 90, size: 11});
T('expr. in females', 751.7, 901.7, {rot: 90, size: 11});
T('(M/F FD &lt;1)', 738.3, 901.7, {rot: 90, size: 11});
</script>
</body></html>
